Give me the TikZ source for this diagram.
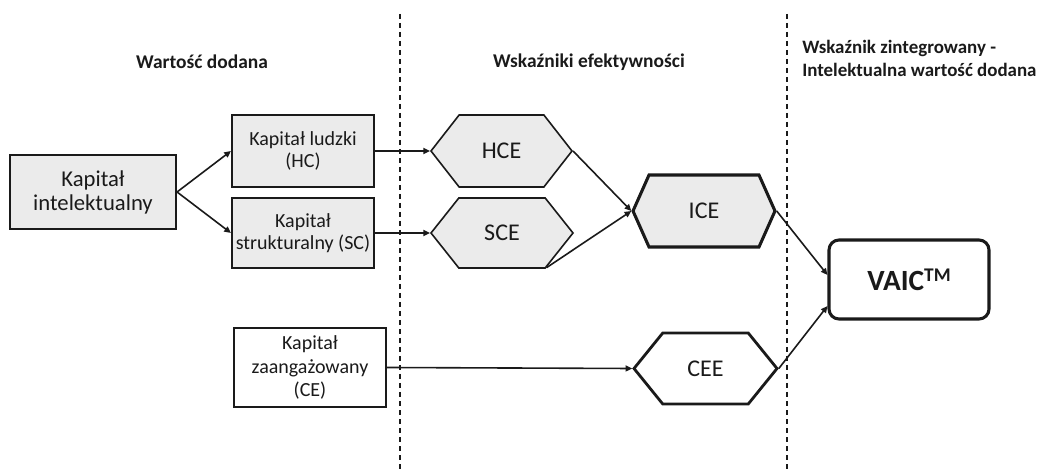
\documentclass[tikz,border=0pt]{standalone}
\usepackage{fontspec}
\setmainfont{Carlito}
\usetikzlibrary{shapes.symbols,arrows.meta,calc}
\definecolor{boxfill}{HTML}{EBEBEB}
\definecolor{ink}{HTML}{1A1A1A}
\begin{document}
\begin{tikzpicture}[x=0.75pt,y=-0.75pt,
  every node/.style={text=ink},
  rectbox/.style={draw=ink,line width=1.6pt,fill=boxfill,inner sep=0pt,align=center,
    font=\fontsize{15pt}{16.5pt}\selectfont},
  hexbox/.style={shape=signal,signal to=east and west,draw=ink,inner sep=0pt,
    font=\fontsize{18pt}{20pt}\selectfont},
  header/.style={font=\bfseries\fontsize{14.6pt}{16.5pt}\selectfont,inner sep=0pt},
  conn/.style={draw=ink,line width=1.2pt,-{Triangle[length=5pt,width=4.5pt]}},
  divider/.style={draw=ink,line width=1.1pt,dash pattern=on 3.75pt off 3pt}
]
\useasboundingbox (0,0) rectangle (1041,473);

% dividers
\coordinate (d1t) at (400,14); \coordinate (d1b) at (400,473);
\coordinate (d2t) at (787,14); \coordinate (d2b) at (787,473);
\path[divider] (d1t) -- (d1b);
\path[divider] (d2t) -- (d2b);

% headers
\node[header] (h1) at (202,62) {Wartość dodana};
\node[header] (h2) at (589,62) {Wskaźniki efektywności};
\node[header,anchor=west,font=\bfseries\fontsize{14.2pt}{16pt}\selectfont] (h3a) at (802,48) {Wskaźnik zintegrowany -};
\node[header,anchor=west,font=\bfseries\fontsize{14.2pt}{16pt}\selectfont] (h3b) at (802,70) {Intelektualna wartość dodana};

% rectangles
\node[rectbox,minimum width=124.5pt,minimum height=55.5pt,
  font=\fontsize{17pt}{18pt}\selectfont] (KI) at (93,192) {Kapitał\\intelektualny};
\node[rectbox,minimum width=106.5pt,minimum height=54pt] (HC) at (303,151) {Kapitał ludzki\\(HC)};
\node[rectbox,minimum width=106.5pt,minimum height=52.5pt] (SC) at (303,233) {Kapitał\\strukturalny (SC)};
\node[rectbox,fill=white,minimum width=114pt,minimum height=59.25pt,
  font=\fontsize{15pt}{17.6pt}\selectfont] (CE) at (310,367.5) {Kapitał\\zaangażowany\\(CE)};

% hexagons
\node[hexbox,fill=boxfill,line width=1.2pt,minimum width=105.75pt,minimum height=54pt,
  signal pointer angle=104] (HCE) at (501.5,151) {HCE};
\node[hexbox,fill=boxfill,line width=1.2pt,minimum width=106.5pt,minimum height=52.5pt,
  signal pointer angle=103] (SCE) at (502,233) {SCE};
\node[hexbox,fill=boxfill,line width=2.3pt,minimum width=106.5pt,minimum height=54pt,
  signal pointer angle=132] (ICE) at (704,211) {ICE};
\node[hexbox,fill=white,line width=2.1pt,minimum width=107.25pt,minimum height=53.25pt,
  signal pointer angle=102] (CEE) at (705.5,368.5) {CEE};

% VAIC
\node[draw=ink,line width=2.3pt,rounded corners=7.5pt,fill=white,inner sep=0pt,
  minimum width=120pt,minimum height=59.25pt,
  font=\bfseries\fontsize{22pt}{24pt}\selectfont] (VAIC) at (909,279.5)
  {VAIC\raisebox{0.3em}{\fontsize{14.5pt}{15pt}\selectfont TM}};

% connectors
\draw[conn] (KI.east) -- (HC.west);
\draw[conn] (KI.east) -- (SC.west);
\draw[conn] (HC.east) -- (HCE.west);
\draw[conn] (SC.east) -- (SCE.west);
\draw[conn] (CE.east) -- (CEE.west);
\draw[conn] (HCE.east) -- (ICE.west);
\draw[conn] (SCE.-38.5) -- (ICE.west);
\draw[conn] (ICE.east) -- ($(VAIC.west)+(0,-4.5)$);
\draw[conn] (CEE.east) -- ($(VAIC.west)+(0,26.5)$);
\end{tikzpicture}
\end{document}
